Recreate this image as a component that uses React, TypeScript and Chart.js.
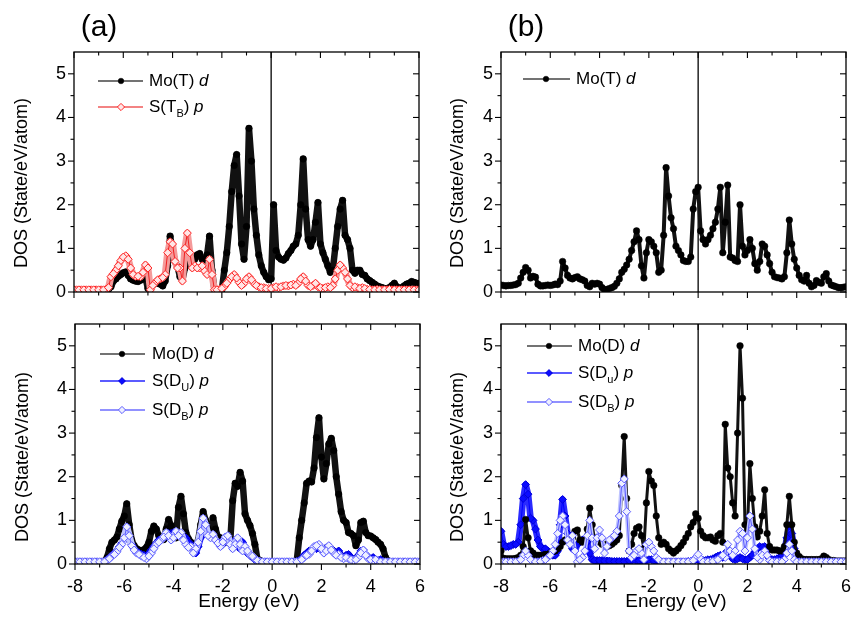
import React, { useEffect, useRef } from "react";
import { Chart, registerables } from "chart.js";

Chart.register(...registerables);

// Energy grid: -8 eV to 6 eV, sampled every 0.1 eV (141 points)
const E_MIN = -8;
const E_STEP = 0.1;
const X_TICKS = [-8, -6, -4, -2, 0, 2, 4, 6];
const Y_TICKS = [0, 1, 2, 3, 4, 5];

// ---------- Panel (a) ----------
const MO_T_A = [
  0.04, 0.04, 0.04, 0.04, 0.04, 0.04, 0.04, 0.04, 0.04, 0.04, // -8.0
  0.04, 0.04, 0.04, 0.04, 0.06, 0.12, 0.25, 0.3, 0.36, 0.4, // -7.0
  0.44, 0.46, 0.38, 0.3, 0.27, 0.25, 0.24, 0.27, 0.3, 0.32, // -6.0
  0.08, 0.12, 0.16, 0.2, 0.2, 0.18, 0.14, 0.25, 0.6, 1.28, // -5.0
  0.95, 0.7, 0.58, 0.35, 0.28, 0.55, 0.65, 0.66, 0.68, 0.75, // -4.0
  0.85, 0.88, 0.75, 0.65, 0.85, 1.28, 0.5, 0.05, 0.05, 0.05, // -3.0
  0.05, 0.5, 0.9, 1.5, 2.3, 2.9, 3.15, 2.2, 1.1, 0.75, // -2.0
  1.5, 3.75, 3.0, 1.9, 1.3, 0.85, 0.6, 0.45, 0.35, 0.28, // -1.0
  0.3, 2.0, 0.95, 0.8, 0.75, 0.73, 0.78, 0.88, 0.95, 1.05, // 0.0
  1.1, 1.3, 2.0, 3.05, 1.9, 1.2, 1.05, 1.2, 1.6, 2.05, // 1.0
  1.1, 0.9, 0.75, 0.6, 0.45, 0.5, 1.0, 1.5, 1.9, 2.1, // 2.0
  1.3, 1.2, 1.0, 0.5, 0.43, 0.5, 0.5, 0.4, 0.38, 0.3, // 3.0
  0.26, 0.22, 0.18, 0.14, 0.12, 0.1, 0.08, 0.08, 0.1, 0.15, // 4.0
  0.2, 0.12, 0.08, 0.1, 0.14, 0.18, 0.2, 0.24, 0.22, 0.2, // 5.0
  0.2, // 6.0
];
const S_TB_A = [
  0.05, 0.05, 0.05, 0.05, 0.05, 0.05, 0.05, 0.05, 0.05, 0.05, // -8.0
  0.05, 0.05, 0.05, 0.06, 0.1, 0.35, 0.42, 0.5, 0.6, 0.72, // -7.0
  0.8, 0.83, 0.75, 0.55, 0.4, 0.36, 0.36, 0.35, 0.45, 0.62, // -6.0
  0.55, 0.05, 0.15, 0.22, 0.28, 0.3, 0.33, 0.4, 0.9, 1.15, // -5.0
  1.1, 0.7, 0.55, 0.55, 0.25, 1.0, 1.35, 0.9, 0.55, 0.6, // -4.0
  0.55, 0.55, 0.6, 0.48, 0.4, 0.75, 0.4, 0.05, 0.05, 0.06, // -3.0
  0.08, 0.12, 0.2, 0.28, 0.35, 0.4, 0.32, 0.22, 0.15, 0.2, // -2.0
  0.3, 0.35, 0.28, 0.2, 0.15, 0.12, 0.1, 0.1, 0.08, 0.08, // -1.0
  0.08, 0.1, 0.12, 0.1, 0.12, 0.14, 0.15, 0.14, 0.16, 0.18, // 0.0
  0.15, 0.2, 0.3, 0.35, 0.25, 0.15, 0.12, 0.15, 0.2, 0.12, // 1.0
  0.1, 0.08, 0.1, 0.12, 0.1, 0.15, 0.3, 0.5, 0.62, 0.55, // 2.0
  0.45, 0.3, 0.15, 0.1, 0.12, 0.1, 0.08, 0.1, 0.08, 0.06, // 3.0
  0.06, 0.05, 0.05, 0.06, 0.05, 0.05, 0.05, 0.05, 0.06, 0.05, // 4.0
  0.05, 0.05, 0.05, 0.05, 0.05, 0.05, 0.05, 0.05, 0.05, 0.05, // 5.0
  0.05, // 6.0
];

// ---------- Panel (b) ----------
const MO_T_B = [
  0.16, 0.15, 0.14, 0.15, 0.15, 0.16, 0.17, 0.2, 0.32, 0.45, // -8.0
  0.56, 0.5, 0.32, 0.36, 0.34, 0.18, 0.14, 0.14, 0.15, 0.16, // -7.0
  0.15, 0.16, 0.18, 0.17, 0.25, 0.7, 0.55, 0.38, 0.32, 0.3, // -6.0
  0.33, 0.35, 0.3, 0.28, 0.25, 0.15, 0.12, 0.2, 0.18, 0.2, // -5.0
  0.18, 0.1, 0.05, 0.06, 0.08, 0.1, 0.13, 0.2, 0.3, 0.45, // -4.0
  0.52, 0.62, 0.75, 0.95, 1.15, 1.4, 1.2, 0.6, 0.32, 0.9, // -3.0
  1.2, 1.15, 1.05, 0.9, 0.45, 0.5, 1.3, 2.85, 2.2, 1.7, // -2.0
  1.45, 1.05, 0.95, 0.85, 0.72, 0.7, 0.7, 0.8, 1.9, 2.3, // -1.0
  2.4, 1.4, 1.2, 1.1, 1.2, 1.3, 1.45, 1.6, 1.9, 2.4, // 0.0
  0.9, 1.6, 2.45, 0.8, 0.78, 0.72, 0.7, 2.0, 1.05, 0.85, // 1.0
  0.95, 1.2, 1.0, 0.65, 0.5, 0.7, 1.1, 1.05, 0.85, 0.65, // 2.0
  0.45, 0.35, 0.33, 0.32, 0.3, 0.35, 0.9, 1.65, 1.1, 0.75, // 3.0
  0.55, 0.38, 0.28, 0.25, 0.38, 0.2, 0.12, 0.15, 0.26, 0.22, // 4.0
  0.2, 0.35, 0.42, 0.25, 0.16, 0.14, 0.12, 0.1, 0.1, 0.11, // 5.0
  0.12, // 6.0
];

// ---------- Panel (c) ----------
const MO_D_C = [
  0.04, 0.04, 0.04, 0.04, 0.04, 0.04, 0.04, 0.04, 0.04, 0.04, // -8.0
  0.04, 0.04, 0.04, 0.15, 0.35, 0.5, 0.55, 0.62, 0.8, 0.98, // -7.0
  1.1, 1.38, 0.9, 0.55, 0.42, 0.35, 0.32, 0.3, 0.33, 0.38, // -6.0
  0.5, 0.75, 0.87, 0.8, 0.65, 0.6, 0.56, 0.8, 1.02, 0.88, // -5.0
  0.65, 0.6, 1.3, 1.55, 1.15, 0.72, 0.58, 0.5, 0.45, 0.38, // -4.0
  0.55, 0.9, 1.2, 1.0, 0.8, 0.72, 1.06, 0.8, 0.62, 0.6, // -3.0
  0.58, 0.55, 0.5, 0.52, 1.45, 1.85, 1.78, 2.1, 1.9, 1.15, // -2.0
  1.0, 0.88, 0.7, 0.45, 0.12, 0.08, 0.06, 0.05, 0.05, 0.05, // -1.0
  0.05, 0.05, 0.05, 0.05, 0.05, 0.05, 0.05, 0.05, 0.05, 0.05, // 0.0
  0.08, 0.6, 1.0, 1.4, 1.85, 1.9, 1.88, 2.2, 2.9, 3.35, // 1.0
  2.45, 1.95, 2.3, 2.75, 2.88, 2.6, 2.0, 1.6, 1.2, 1.0, // 2.0
  0.95, 0.72, 0.7, 0.65, 0.42, 0.55, 0.95, 0.98, 0.72, 0.65, // 3.0
  0.64, 0.6, 0.56, 0.5, 0.45, 0.35, 0.15, 0.07, 0.05, 0.05, // 4.0
  0.05, 0.05, 0.05, 0.05, 0.05, 0.05, 0.05, 0.05, 0.06, 0.05, // 5.0
  0.05, // 6.0
];
const S_DU_C = [
  0.05, 0.05, 0.05, 0.05, 0.05, 0.05, 0.05, 0.05, 0.05, 0.05, // -8.0
  0.05, 0.05, 0.06, 0.1, 0.15, 0.2, 0.25, 0.3, 0.4, 0.48, // -7.0
  0.55, 0.85, 0.6, 0.45, 0.35, 0.28, 0.25, 0.22, 0.2, 0.15, // -6.0
  0.25, 0.32, 0.4, 0.48, 0.55, 0.58, 0.6, 0.65, 0.7, 0.7, // -5.0
  0.72, 0.7, 0.7, 0.7, 0.62, 0.6, 0.5, 0.45, 0.3, 0.25, // -4.0
  0.4, 0.6, 1.0, 0.85, 0.7, 0.65, 0.6, 0.55, 0.5, 0.5, // -3.0
  0.45, 0.55, 0.6, 0.5, 0.45, 0.55, 0.4, 0.35, 0.5, 0.35, // -2.0
  0.25, 0.2, 0.15, 0.1, 0.08, 0.06, 0.05, 0.05, 0.05, 0.05, // -1.0
  0.05, 0.05, 0.05, 0.05, 0.05, 0.05, 0.05, 0.05, 0.05, 0.05, // 0.0
  0.06, 0.08, 0.12, 0.2, 0.25, 0.3, 0.32, 0.38, 0.35, 0.38, // 1.0
  0.32, 0.3, 0.38, 0.4, 0.35, 0.3, 0.25, 0.3, 0.2, 0.15, // 2.0
  0.2, 0.22, 0.15, 0.1, 0.12, 0.2, 0.3, 0.32, 0.22, 0.15, // 3.0
  0.12, 0.15, 0.1, 0.08, 0.1, 0.06, 0.05, 0.05, 0.05, 0.05, // 4.0
  0.05, 0.05, 0.05, 0.05, 0.05, 0.05, 0.05, 0.05, 0.05, 0.05, // 5.0
  0.05, // 6.0
];
const S_DB_C = [
  0.05, 0.05, 0.05, 0.05, 0.05, 0.05, 0.05, 0.05, 0.05, 0.05, // -8.0
  0.05, 0.05, 0.05, 0.08, 0.12, 0.18, 0.22, 0.28, 0.38, 0.45, // -7.0
  0.6, 0.85, 0.65, 0.42, 0.32, 0.25, 0.22, 0.18, 0.15, 0.12, // -6.0
  0.18, 0.25, 0.35, 0.45, 0.5, 0.55, 0.62, 0.72, 0.65, 0.55, // -5.0
  0.6, 0.75, 0.65, 0.72, 0.55, 0.45, 0.38, 0.4, 0.25, 0.35, // -4.0
  0.5, 0.75, 1.05, 0.9, 0.65, 0.6, 0.68, 0.55, 0.48, 0.4, // -3.0
  0.5, 0.62, 0.65, 0.45, 0.35, 0.45, 0.6, 0.45, 0.3, 0.4, // -2.0
  0.3, 0.22, 0.18, 0.12, 0.08, 0.06, 0.05, 0.05, 0.05, 0.05, // -1.0
  0.05, 0.05, 0.05, 0.05, 0.05, 0.05, 0.05, 0.05, 0.05, 0.05, // 0.0
  0.05, 0.06, 0.1, 0.15, 0.2, 0.22, 0.3, 0.4, 0.42, 0.45, // 1.0
  0.35, 0.25, 0.3, 0.42, 0.32, 0.25, 0.2, 0.22, 0.15, 0.12, // 2.0
  0.15, 0.12, 0.1, 0.08, 0.1, 0.15, 0.25, 0.32, 0.2, 0.12, // 3.0
  0.1, 0.08, 0.1, 0.06, 0.05, 0.05, 0.05, 0.05, 0.05, 0.05, // 4.0
  0.05, 0.05, 0.05, 0.05, 0.05, 0.05, 0.05, 0.05, 0.05, 0.05, // 5.0
  0.05, // 6.0
];

// ---------- Panel (d) ----------
const MO_D_D = [
  0.3, 0.13, 0.12, 0.12, 0.12, 0.12, 0.13, 0.15, 0.2, 0.4, // -8.0
  1.02, 0.6, 0.3, 0.25, 0.2, 0.2, 0.2, 0.2, 0.22, 0.22, // -7.0
  0.25, 0.28, 0.3, 0.35, 0.4, 0.5, 0.55, 0.58, 0.6, 0.6, // -6.0
  0.75, 0.78, 0.55, 0.5, 0.55, 0.8, 1.28, 0.9, 0.55, 0.6, // -5.0
  0.5, 0.45, 0.45, 0.4, 0.42, 0.45, 0.5, 0.55, 0.65, 1.8, // -4.0
  2.92, 1.5, 0.3, 0.45, 0.7, 0.82, 0.85, 0.65, 0.35, 1.4, // -3.0
  2.12, 1.9, 1.8, 1.1, 0.6, 0.45, 0.5, 0.45, 0.35, 0.3, // -2.0
  0.25, 0.3, 0.35, 0.42, 0.5, 0.6, 0.7, 0.85, 0.95, 1.15, // -1.0
  1.05, 0.75, 0.65, 0.6, 0.6, 0.62, 0.55, 0.52, 0.65, 0.7, // 0.0
  0.5, 3.2, 2.2, 2.0, 1.4, 1.1, 3.0, 5.0, 3.8, 0.9, // 1.0
  0.8, 2.3, 1.5, 0.85, 0.62, 0.75, 1.1, 1.7, 0.7, 0.4, // 2.0
  0.32, 0.32, 0.32, 0.3, 0.3, 0.4, 0.9, 1.55, 0.9, 0.5, // 3.0
  0.25, 0.17, 0.12, 0.1, 0.1, 0.1, 0.1, 0.1, 0.1, 0.1, // 4.0
  0.12, 0.18, 0.15, 0.1, 0.08, 0.08, 0.07, 0.07, 0.07, 0.07, // 5.0
  0.07, // 6.0
];
const S_DU_D = [
  0.75, 0.45, 0.4, 0.4, 0.42, 0.45, 0.45, 0.5, 0.9, 1.5, // -8.0
  1.82, 1.6, 1.05, 1.0, 0.8, 0.55, 0.4, 0.35, 0.35, 0.3, // -7.0
  0.25, 0.2, 0.2, 0.3, 0.9, 1.48, 1.1, 0.7, 0.5, 0.35, // -6.0
  0.3, 0.45, 0.5, 0.55, 0.55, 0.5, 0.25, 0.1, 0.08, 0.08, // -5.0
  0.08, 0.08, 0.07, 0.07, 0.07, 0.06, 0.06, 0.06, 0.06, 0.06, // -4.0
  0.06, 0.06, 0.08, 0.08, 0.1, 0.08, 0.08, 0.06, 0.06, 0.08, // -3.0
  0.1, 0.1, 0.08, 0.06, 0.06, 0.05, 0.05, 0.05, 0.05, 0.05, // -2.0
  0.05, 0.05, 0.05, 0.05, 0.05, 0.05, 0.06, 0.06, 0.08, 0.1, // -1.0
  0.1, 0.08, 0.08, 0.08, 0.1, 0.1, 0.12, 0.15, 0.18, 0.2, // 0.0
  0.15, 0.25, 0.3, 0.2, 0.12, 0.1, 0.12, 0.15, 0.12, 0.1, // 1.0
  0.1, 0.15, 0.2, 0.28, 0.35, 0.4, 0.38, 0.4, 0.2, 0.12, // 2.0
  0.1, 0.1, 0.12, 0.15, 0.2, 0.3, 0.6, 0.88, 0.7, 0.35, // 3.0
  0.15, 0.12, 0.1, 0.08, 0.08, 0.07, 0.06, 0.06, 0.05, 0.05, // 4.0
  0.05, 0.05, 0.05, 0.05, 0.05, 0.05, 0.05, 0.05, 0.05, 0.05, // 5.0
  0.05, // 6.0
];
const S_DB_D = [
  0.05, 0.05, 0.05, 0.05, 0.05, 0.05, 0.05, 0.06, 0.1, 0.2, // -8.0
  0.3, 0.2, 0.1, 0.05, 0.05, 0.05, 0.06, 0.08, 0.1, 0.15, // -7.0
  0.2, 0.3, 0.45, 0.7, 1.0, 1.1, 0.9, 0.55, 0.45, 0.65, // -6.0
  0.3, 0.05, 0.1, 0.15, 0.3, 0.65, 1.0, 0.6, 0.35, 0.6, // -5.0
  0.78, 0.6, 0.25, 0.4, 0.55, 0.6, 0.65, 0.75, 1.1, 1.85, // -4.0
  1.95, 1.2, 0.3, 0.15, 0.2, 0.3, 0.35, 0.25, 0.1, 0.45, // -3.0
  0.5, 0.4, 0.3, 0.15, 0.1, 0.05, 0.05, 0.05, 0.05, 0.05, // -2.0
  0.05, 0.05, 0.05, 0.05, 0.05, 0.05, 0.05, 0.06, 0.08, 0.15, // -1.0
  0.22, 0.12, 0.05, 0.05, 0.05, 0.06, 0.06, 0.08, 0.1, 0.15, // 0.0
  0.2, 0.15, 0.45, 0.3, 0.2, 0.3, 0.55, 0.75, 0.7, 0.3, // 1.0
  0.6, 1.1, 0.8, 0.35, 0.15, 0.1, 0.2, 0.3, 0.2, 0.08, // 2.0
  0.05, 0.05, 0.05, 0.05, 0.05, 0.1, 0.25, 0.45, 0.3, 0.1, // 3.0
  0.05, 0.05, 0.05, 0.05, 0.05, 0.05, 0.05, 0.05, 0.05, 0.05, // 4.0
  0.05, 0.05, 0.05, 0.05, 0.05, 0.05, 0.05, 0.05, 0.05, 0.05, // 5.0
  0.05, // 6.0
];

const FONT = '"Liberation Sans", Arial, Helvetica, sans-serif';

type Kind = "mo" | "red" | "blue" | "light";

const STYLE: Record<Kind, any> = {
  mo: { line: "#111111", band: "#111111", legendLine: "#444", shape: "circle", r: 3.3, bg: "#000", border: "#000", bw: 0.5, lr: 2.8 },
  red: { line: "#ee2020", band: "#f59a9a", legendLine: "#ef5a5a", shape: "rectRot", r: 4, bg: "#ffe6e6", border: "#ff2424", bw: 1, lr: 3.6 },
  blue: { line: "#0000ff", band: "#2a2aff", legendLine: "#2424ff", shape: "rectRot", r: 3.9, bg: "#0c0cff", border: "#0000d8", bw: 1, lr: 3.4 },
  light: { line: "#5a5aff", band: "#bfc4ff", legendLine: "#6c6cff", shape: "rectRot", r: 4, bg: "#eef0ff", border: "#5c5cff", bw: 1, lr: 3.6 },
};

type Series = { kind: Kind; pre: string; sub?: string; post: string; orb: string; data: number[]; layer: number; lw: number };
type Panel = {
  key: string; left: number; top: number; w: number; h: number;
  area: { l: number; t: number; r: number; b: number };
  letter?: { text: string; x: number; y: number };
  xLabels: boolean; xTitle?: { x: number; y: number };
  yTitle: { x: number; y: number };
  legend: { x0: number; x1: number; mx: number; tx: number; rows: number[] };
  series: Series[];
};

// layer 0 = drawn on top; lw = width of the band drawn under the markers
const PANELS: Panel[] = [
  {
    key: "a", left: 0, top: 0, w: 430, h: 310,
    area: { l: 74, t: 52, r: 419, b: 292 },
    letter: { text: "(a)", x: 99, y: 28 },
    xLabels: false, yTitle: { x: 22, y: 183 },
    legend: { x0: 98, x1: 143, mx: 121, tx: 149, rows: [81, 107] },
    series: [
      { kind: "mo", pre: "Mo(T) ", post: "", orb: "d", data: MO_T_A, layer: 1, lw: 6.5 },
      { kind: "red", pre: "S(T", sub: "B", post: ") ", orb: "p", data: S_TB_A, layer: 0, lw: 7 },
    ],
  },
  {
    key: "b", left: 430, top: 0, w: 423, h: 310,
    area: { l: 71, t: 52, r: 416, b: 292 },
    letter: { text: "(b)", x: 96, y: 28 },
    xLabels: false, yTitle: { x: 28, y: 183 },
    legend: { x0: 93, x1: 140, mx: 116, tx: 146, rows: [79] },
    series: [{ kind: "mo", pre: "Mo(T) ", post: "", orb: "d", data: MO_T_B, layer: 0, lw: 4 }],
  },
  {
    key: "c", left: 0, top: 310, w: 430, h: 307,
    area: { l: 75, t: 14, r: 420, b: 254 },
    xLabels: true, xTitle: { x: 249, y: 292 }, yTitle: { x: 23, y: 147 },
    legend: { x0: 100, x1: 145, mx: 122, tx: 152, rows: [44, 71, 100] },
    series: [
      { kind: "mo", pre: "Mo(D) ", post: "", orb: "d", data: MO_D_C, layer: 2, lw: 6.5 },
      { kind: "blue", pre: "S(D", sub: "U", post: ") ", orb: "p", data: S_DU_C, layer: 1, lw: 6.5 },
      { kind: "light", pre: "S(D", sub: "B", post: ") ", orb: "p", data: S_DB_C, layer: 0, lw: 7 },
    ],
  },
  {
    key: "d", left: 430, top: 310, w: 423, h: 307,
    area: { l: 71, t: 14, r: 416, b: 254 },
    xLabels: true, xTitle: { x: 246, y: 292 }, yTitle: { x: 28, y: 147 },
    legend: { x0: 97, x1: 142, mx: 119, tx: 148, rows: [36, 63, 92] },
    series: [
      { kind: "mo", pre: "Mo(D) ", post: "", orb: "d", data: MO_D_D, layer: 1, lw: 3 },
      { kind: "blue", pre: "S(D", sub: "u", post: ") ", orb: "p", data: S_DU_D, layer: 2, lw: 6.5 },
      { kind: "light", pre: "S(D", sub: "B", post: ") ", orb: "p", data: S_DB_D, layer: 0, lw: 4 },
    ],
  },
];

function toXY(arr: number[]) {
  return arr.map((y, i) => ({ x: Math.round((E_MIN + i * E_STEP) * 100) / 100, y }));
}

function drawMarker(ctx: CanvasRenderingContext2D, kind: Kind, x: number, y: number, r: number) {
  const st = STYLE[kind];
  ctx.save();
  ctx.fillStyle = st.bg;
  ctx.strokeStyle = st.border;
  ctx.lineWidth = st.bw;
  ctx.beginPath();
  if (st.shape === "circle") {
    ctx.arc(x, y, r, 0, Math.PI * 2);
  } else {
    ctx.moveTo(x, y - r);
    ctx.lineTo(x + r, y);
    ctx.lineTo(x, y + r);
    ctx.lineTo(x - r, y);
    ctx.closePath();
  }
  ctx.fill();
  ctx.stroke();
  ctx.restore();
}

function seg(ctx: CanvasRenderingContext2D, x1: number, y1: number, x2: number, y2: number) {
  ctx.beginPath();
  ctx.moveTo(x1, y1);
  ctx.lineTo(x2, y2);
  ctx.stroke();
}

function decorPlugin(p: Panel) {
  return {
    id: "decor_" + p.key,
    beforeDatasetsDraw(chart: any) {
      const { ctx, chartArea: a, scales } = chart;
      const x0 = scales.x.getPixelForValue(0);
      ctx.save();
      ctx.strokeStyle = "#000";
      ctx.lineWidth = 1.3;
      seg(ctx, x0, a.top, x0, a.bottom);
      ctx.restore();
    },
    afterDraw(chart: any) {
      const { ctx, chartArea: a, scales } = chart;
      const xs = scales.x;
      const ys = scales.y;
      ctx.save();
      ctx.strokeStyle = "#000";
      ctx.lineWidth = 1.3;
      ctx.strokeRect(a.left, a.top, a.right - a.left, a.bottom - a.top);
      ctx.lineWidth = 1.1;
      for (let k = 0; k <= 10; k++) {
        const v = k / 2;
        const len = k % 2 === 0 ? 6 : 3.5;
        const y = ys.getPixelForValue(v);
        seg(ctx, a.left - len, y, a.left, y);
        seg(ctx, a.right, y, a.right - len, y);
      }
      for (let v = -8; v <= 6; v++) {
        const len = v % 2 === 0 ? 6 : 3.5;
        const x = xs.getPixelForValue(v);
        seg(ctx, x, a.bottom, x, a.bottom + len);
        seg(ctx, x, a.top, x, a.top + len);
      }
      ctx.restore();

      const lg = p.legend;
      p.series.forEach((s, i) => {
        const y = lg.rows[i];
        const st = STYLE[s.kind];
        ctx.save();
        ctx.strokeStyle = st.legendLine;
        ctx.lineWidth = 1.3;
        seg(ctx, lg.x0, y, lg.x1, y);
        drawMarker(ctx, s.kind, lg.mx, y, st.lr);
        ctx.fillStyle = "#000";
        ctx.textAlign = "left";
        ctx.textBaseline = "middle";
        let x = lg.tx;
        ctx.font = `17px ${FONT}`;
        ctx.fillText(s.pre, x, y);
        x += ctx.measureText(s.pre).width;
        if (s.sub) {
          ctx.font = `11px ${FONT}`;
          ctx.fillText(s.sub, x, y + 7);
          x += ctx.measureText(s.sub).width;
          ctx.font = `17px ${FONT}`;
        }
        if (s.post) {
          ctx.fillText(s.post, x, y);
          x += ctx.measureText(s.post).width;
        }
        ctx.font = `italic 17px ${FONT}`;
        ctx.fillText(s.orb, x, y);
        ctx.restore();
      });

      ctx.save();
      ctx.translate(p.yTitle.x, p.yTitle.y);
      ctx.rotate(-Math.PI / 2);
      ctx.fillStyle = "#000";
      ctx.font = `18px ${FONT}`;
      ctx.textAlign = "center";
      ctx.textBaseline = "middle";
      ctx.fillText("DOS (State/eV/atom)", 0, 0);
      ctx.restore();

      if (p.xTitle) {
        ctx.save();
        ctx.fillStyle = "#000";
        ctx.font = `19px ${FONT}`;
        ctx.textAlign = "center";
        ctx.textBaseline = "middle";
        ctx.fillText("Energy (eV)", p.xTitle.x, p.xTitle.y);
        ctx.restore();
      }

      if (p.letter) {
        ctx.save();
        ctx.fillStyle = "#000";
        ctx.font = `30px ${FONT}`;
        ctx.textAlign = "center";
        ctx.textBaseline = "middle";
        ctx.fillText(p.letter.text, p.letter.x, p.letter.y);
        ctx.restore();
      }
    },
  };
}

// Each series: a band (wide line), a thin line, and marker-only datasets (even / odd samples).
function buildDatasets(p: Panel) {
  const out: any[] = [];
  p.series.forEach((s) => {
    const st = STYLE[s.kind];
    const pts = toXY(s.data);
    const name = s.pre + (s.sub || "") + s.post + s.orb;
    out.push({
      label: name + " band",
      data: pts,
      order: s.layer * 4 + 3,
      borderColor: st.band,
      borderWidth: s.lw,
      borderJoinStyle: "round",
      borderCapStyle: "round",
      pointRadius: 0,
      tension: 0,
      fill: false,
    });
    out.push({
      label: name,
      data: pts,
      order: s.layer * 4 + 2,
      borderColor: st.line,
      borderWidth: 1,
      pointRadius: 0,
      tension: 0,
      fill: false,
    });
    [0, 1].forEach((parity) => {
      out.push({
        label: name + " markers " + parity,
        data: pts.filter((_, i) => i % 2 === parity),
        order: s.layer * 4 + parity * 0.5,
        showLine: false,
        borderColor: st.line,
        borderWidth: 0,
        pointStyle: st.shape,
        pointRadius: st.r,
        pointBackgroundColor: st.bg,
        pointBorderColor: st.border,
        pointBorderWidth: st.bw,
        fill: false,
      });
    });
  });
  return out;
}

function PanelChart({ p }: { p: Panel }) {
  const ref = useRef<HTMLCanvasElement | null>(null);
  useEffect(() => {
    const canvas = ref.current;
    if (!canvas) return;
    const chart = new Chart(canvas, {
      type: "line",
      data: { datasets: buildDatasets(p) },
      options: {
        responsive: false,
        animation: false,
        events: [],
        layout: { padding: { left: 0, top: p.area.t, right: p.w - p.area.r, bottom: 0 } },
        plugins: { legend: { display: false }, tooltip: { enabled: false }, title: { display: false } },
        scales: {
          x: {
            type: "linear",
            min: -8,
            max: 6,
            grid: { display: false, drawTicks: false },
            border: { display: false },
            ticks: {
              display: p.xLabels,
              stepSize: 2,
              padding: 12,
              color: "#000",
              maxRotation: 0,
              autoSkip: false,
              font: { family: FONT, size: 18 },
            },
            afterBuildTicks: (s: any) => {
              s.ticks = X_TICKS.map((v) => ({ value: v }));
            },
            afterFit: (s: any) => {
              s.height = p.h - p.area.b;
              s.paddingLeft = 0;
              s.paddingRight = 0;
            },
          },
          y: {
            type: "linear",
            min: 0,
            max: 5.5,
            grid: { display: false, drawTicks: false },
            border: { display: false },
            ticks: {
              stepSize: 1,
              padding: 8,
              color: "#000",
              autoSkip: false,
              font: { family: FONT, size: 18 },
            },
            afterBuildTicks: (s: any) => {
              s.ticks = Y_TICKS.map((v) => ({ value: v }));
            },
            afterFit: (s: any) => {
              s.width = p.area.l;
              s.paddingTop = 0;
              s.paddingBottom = 0;
            },
          },
        },
      } as any,
      plugins: [decorPlugin(p) as any],
    });
    return () => chart.destroy();
  }, [p]);
  return (
    <canvas
      ref={ref}
      width={p.w}
      height={p.h}
      style={{ position: "absolute", left: p.left, top: p.top, width: p.w, height: p.h, display: "block" }}
    />
  );
}

export default function App() {
  return (
    <div style={{ position: "absolute", left: 0, top: 0, width: 853, height: 617, background: "#fff", overflow: "hidden" }}>
      {PANELS.map((p) => (
        <PanelChart key={p.key} p={p} />
      ))}
    </div>
  );
}
